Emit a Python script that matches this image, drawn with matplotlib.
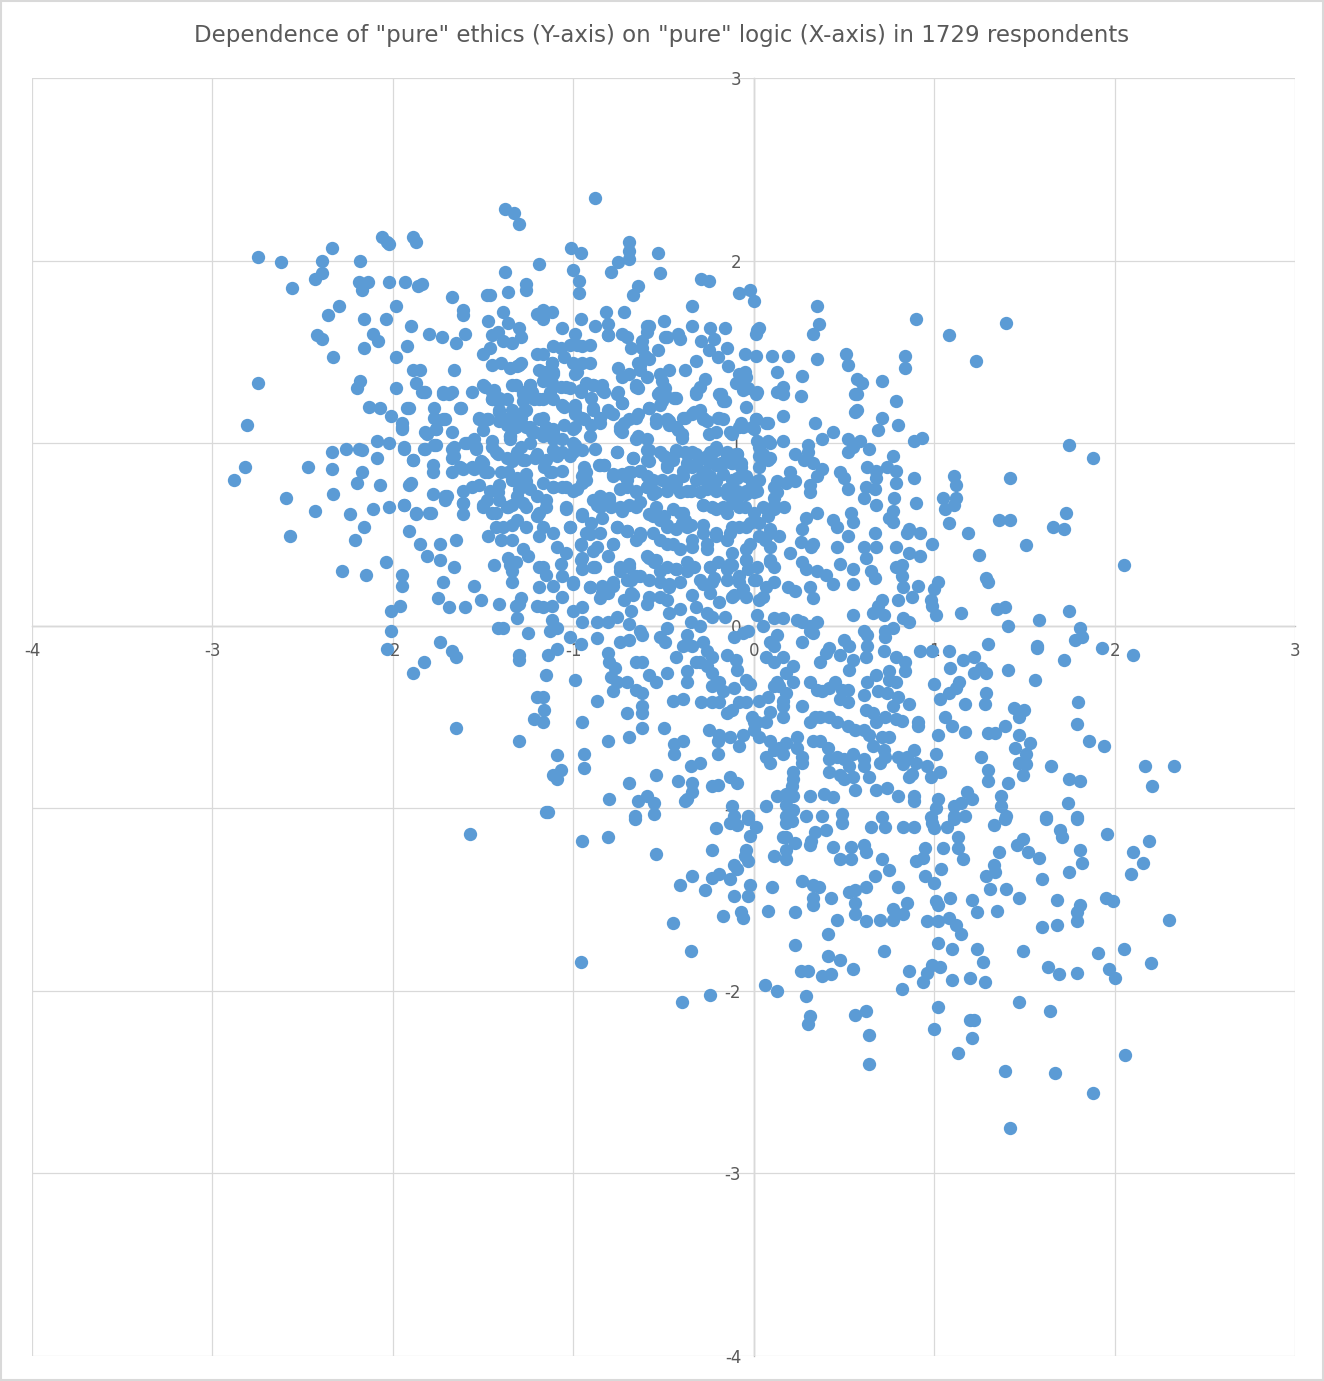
import matplotlib.pyplot as plt
from matplotlib.patches import Rectangle

plt.rcParams['axes.unicode_minus'] = False

# "pure" logic (x) vs "pure" ethics (y)
upper_left = [
    (-2.75, 2.02), (-2.62, 1.99), (-2.56, 1.85), (-2.43, 1.90), (-2.39, 1.93), (-2.39, 2.00),
    (-2.34, 2.07), (-2.18, 2.00), (-2.06, 2.13), (-2.03, 2.10), (-2.02, 2.09), (-1.89, 2.13),
    (-1.87, 2.10), (-1.38, 2.28), (-1.33, 2.26), (-1.30, 2.20), (-2.19, 1.88), (-2.14, 1.88),
    (-2.17, 1.84), (-2.02, 1.88), (-1.93, 1.88), (-1.86, 1.86), (-1.84, 1.87), (-1.67, 1.80),
    (-1.48, 1.81), (-1.46, 1.81), (-1.36, 1.83), (-1.38, 1.94), (-1.26, 1.87), (-1.26, 1.84),
    (-1.19, 1.98), (-2.30, 1.75), (-2.36, 1.70), (-2.16, 1.68), (-2.04, 1.68), (-1.98, 1.75),
    (-2.11, 1.60), (-2.08, 1.56), (-1.90, 1.64), (-1.80, 1.60), (-1.73, 1.58), (-1.61, 1.73),
    (-1.61, 1.70), (-1.65, 1.55), (-1.60, 1.60), (-2.42, 1.59), (-2.39, 1.57), (-2.16, 1.52),
    (-1.92, 1.53), (-1.98, 1.47), (-2.33, 1.47), (-1.47, 1.67), (-1.39, 1.72), (-1.36, 1.66),
    (-1.30, 1.63), (-1.29, 1.58), (-1.45, 1.59), (-1.42, 1.61), (-1.39, 1.56), (-1.34, 1.55),
    (-1.50, 1.49), (-1.46, 1.52), (-1.40, 1.44), (-1.31, 1.42), (-1.29, 1.44), (-1.89, 1.40),
    (-1.85, 1.40), (-1.66, 1.40), (-1.87, 1.33), (-2.18, 1.34), (-2.20, 1.30), (-1.98, 1.30),
    (-1.84, 1.28), (-1.82, 1.28), (-1.72, 1.27), (-1.69, 1.27), (-1.56, 1.28), (-1.50, 1.32),
    (-1.44, 1.29), (-1.34, 1.32), (-2.75, 1.33), (-2.81, 1.10), (-2.13, 1.20), (-2.07, 1.19),
    (-1.91, 1.19), (-2.01, 1.15), (-1.95, 1.11), (-1.95, 1.08), (-1.82, 1.06), (-1.76, 1.08),
    (-1.77, 1.19), (-1.77, 1.14), (-1.71, 1.13), (-1.62, 1.19), (-1.67, 1.06), (-1.52, 1.13),
    (-1.48, 1.13), (-1.41, 1.18), (-1.39, 1.14), (-1.32, 1.09), (-1.50, 1.07), (-1.35, 1.02),
    (-1.29, 1.14), (-1.24, 1.09), (-2.09, 1.01), (-2.02, 1.00), (-1.94, 0.98), (-1.83, 0.97),
    (-1.76, 0.99), (-2.34, 0.95), (-2.26, 0.97), (-2.19, 0.97), (-2.17, 0.96), (-2.09, 0.92),
    (-1.89, 0.91), (-1.78, 0.88), (-1.78, 0.84), (-1.67, 0.92), (-1.66, 0.98), (-1.59, 1.00),
    (-1.55, 1.02), (-1.54, 0.98), (-1.45, 1.01), (-1.43, 0.95), (-1.37, 0.92), (-1.34, 0.90),
    (-1.27, 0.91), (-1.21, 0.92), (-1.67, 0.84), (-1.61, 0.86), (-1.55, 0.86), (-1.50, 0.89),
    (-1.47, 0.84), (-1.40, 0.84), (-2.82, 0.87), (-2.88, 0.80), (-2.47, 0.87), (-2.34, 0.86),
    (-2.17, 0.84), (-2.20, 0.78), (-2.07, 0.77), (-1.90, 0.78), (-2.59, 0.70), (-2.33, 0.72),
    (-1.78, 0.72), (-1.71, 0.71), (-1.61, 0.74), (-1.56, 0.76), (-1.52, 0.77), (-1.46, 0.74),
    (-1.41, 0.77), (-1.34, 0.80), (-1.30, 0.75), (-1.26, 0.79), (-1.20, 1.71), (-1.20, 1.49),
    (-1.19, 1.40), (-1.24, 1.32), (-1.28, 1.27), (-1.22, 1.24), (-1.26, 1.18), (-1.21, 1.06),
    (-1.20, 0.93), (-1.45, 1.24), (-1.41, 1.25), (-1.37, 1.24), (-1.34, 1.18), (-1.37, 1.10),
    (-1.35, 1.04), (-1.24, 1.00), (-1.29, 0.98),
]

left_dense = [
    (-1.83, 1.28), (-1.72, 1.28), (-1.67, 1.28), (-1.49, 1.31), (-1.45, 1.28), (-1.45, 1.24),
    (-1.41, 1.23), (-1.32, 1.32), (-1.28, 1.28), (-1.24, 1.32), (-1.23, 1.28), (-1.28, 1.23),
    (-1.19, 1.24), (-1.13, 1.28), (-1.11, 1.39), (-1.15, 1.39), (-1.12, 1.44), (-1.30, 1.43),
    (-1.35, 1.41), (-1.45, 1.43), (-1.92, 1.19), (-1.72, 1.13), (-1.76, 1.08), (-1.81, 1.05),
    (-1.63, 1.19), (-1.52, 1.14), (-1.47, 1.13), (-1.41, 1.17), (-1.41, 1.12), (-1.35, 1.14),
    (-1.32, 1.10), (-1.28, 1.17), (-1.26, 1.09), (-1.23, 1.06), (-1.19, 1.13), (-1.15, 1.09),
    (-1.11, 1.06), (-1.17, 1.04), (-1.11, 1.02), (-1.95, 1.09), (-1.94, 0.97), (-1.82, 0.97),
    (-1.77, 0.99), (-1.89, 0.91), (-1.67, 0.97), (-1.60, 1.00), (-1.54, 0.97), (-1.66, 0.93),
    (-1.63, 0.87), (-1.56, 0.87), (-1.51, 0.90), (-1.49, 0.84), (-1.45, 0.98), (-1.42, 0.94),
    (-1.28, 0.91), (-1.35, 1.04), (-1.31, 0.95), (-1.36, 0.84), (-1.31, 0.81), (-1.26, 0.83),
    (-1.20, 0.94), (-1.16, 0.87), (-1.13, 0.84), (-1.09, 0.93), (-1.91, 0.77), (-1.70, 0.71),
    (-1.61, 0.67), (-1.48, 0.69), (-1.50, 0.65), (-1.42, 0.73), (-1.41, 0.69), (-1.37, 0.65),
    (-1.31, 0.71), (-1.28, 0.67), (-1.24, 0.75), (-1.20, 0.71), (-1.15, 0.69), (-1.11, 0.76),
    (-1.94, 0.66), (-1.87, 0.62), (-1.80, 0.62), (-1.61, 0.61), (-1.45, 0.62), (-1.19, 0.62),
]

lower_left = [
    (-2.43, 0.63), (-2.24, 0.61), (-2.16, 0.54), (-2.21, 0.47), (-2.11, 0.64), (-2.02, 0.65),
    (-1.94, 0.66), (-1.87, 0.61), (-1.79, 0.62), (-1.71, 0.69), (-1.61, 0.67), (-2.57, 0.49),
    (-1.91, 0.52), (-1.85, 0.45), (-1.74, 0.45), (-1.65, 0.47), (-1.81, 0.38), (-1.74, 0.36),
    (-1.66, 0.32), (-2.04, 0.35), (-2.28, 0.30), (-2.15, 0.28), (-1.95, 0.28), (-1.95, 0.22),
    (-1.72, 0.24), (-1.55, 0.22), (-1.75, 0.15), (-1.69, 0.10), (-1.60, 0.10), (-1.51, 0.14),
    (-1.96, 0.11), (-2.01, 0.08), (-2.01, -0.03), (-2.03, -0.13), (-1.74, -0.09), (-1.67, -0.14),
    (-1.65, -0.17), (-1.83, -0.20), (-1.89, -0.26), (-1.65, -0.56), (-1.30, -0.63), (-1.22, -0.51),
    (-1.20, -0.39), (-1.30, -0.16), (-1.30, -0.19), (-1.25, -0.04), (-1.31, 0.04), (-1.42, -0.01),
    (-1.39, -0.01), (-1.41, 0.12), (-1.32, 0.11), (-1.29, 0.15), (-1.30, 0.12), (-1.20, 0.11),
    (-1.34, 0.24), (-1.44, 0.33), (-1.36, 0.37), (-1.35, 0.33), (-1.34, 0.30), (-1.32, 0.35),
    (-1.28, 0.42), (-1.25, 0.38), (-1.47, 0.49), (-1.40, 0.47), (-1.34, 0.47), (-1.19, 0.49),
    (-1.43, 0.54), (-1.39, 0.54), (-1.34, 0.55), (-1.31, 0.58), (-1.26, 0.54), (-1.20, 0.60),
    (-1.50, 0.66), (-1.43, 0.62), (-1.36, 0.65), (-1.34, 0.66), (-1.26, 0.65), (-1.19, 0.32),
    (-1.19, 0.21), (-1.57, -1.14), (-1.14, -1.02),
]

upper_mid = [
    (-0.88, 2.34), (-1.01, 2.07), (-0.96, 2.04), (-1.00, 1.95), (-0.97, 1.89), (-0.97, 1.82),
    (-0.79, 1.94), (-0.75, 1.99), (-0.69, 2.10), (-0.69, 2.05), (-0.69, 2.01), (-0.53, 2.04),
    (-0.52, 1.93), (-0.64, 1.86), (-0.67, 1.81), (-0.29, 1.90), (-0.25, 1.89), (-0.08, 1.82),
    (-0.02, 1.84), (0.00, 1.78), (0.35, 1.75), (0.36, 1.65), (0.33, 1.60), (0.35, 1.46),
    (0.51, 1.49), (0.52, 1.43), (-0.34, 1.75), (-1.17, 1.73), (-1.12, 1.72), (-1.17, 1.68),
    (-0.96, 1.68), (-0.82, 1.72), (-0.72, 1.72), (-1.06, 1.63), (-0.99, 1.60), (-0.88, 1.64),
    (-0.81, 1.65), (-0.81, 1.59), (-0.73, 1.60), (-0.70, 1.58), (-0.59, 1.64), (-0.58, 1.64),
    (-0.50, 1.67), (-0.49, 1.58), (-0.48, 1.58), (-0.42, 1.60), (-0.41, 1.57), (-0.34, 1.64),
    (-0.24, 1.63), (-0.16, 1.63), (-0.29, 1.56), (-0.22, 1.57), (-0.25, 1.51), (-0.15, 1.52),
    (-0.20, 1.47), (-0.14, 1.42), (-0.32, 1.45), (-0.38, 1.40), (-0.53, 1.51), (-0.58, 1.46),
    (-0.63, 1.43), (-0.59, 1.61), (-0.62, 1.56), (-0.62, 1.52), (-0.60, 1.48), (-0.64, 1.44),
    (-0.63, 1.40), (-0.59, 1.36), (-0.65, 1.32), (-0.64, 1.30), (-0.69, 1.38), (-0.52, 1.38),
    (-0.51, 1.34), (-0.47, 1.40), (-0.49, 1.30), (-0.53, 1.27), (-0.49, 1.27), (-0.51, 1.23),
    (-0.43, 1.25), (-1.11, 1.53), (-1.12, 1.44), (-1.17, 1.49), (-1.17, 1.39), (-1.11, 1.38),
    (-1.07, 1.52), (-1.05, 1.47), (-1.02, 1.54), (-0.98, 1.54), (-0.95, 1.53), (-0.91, 1.54),
    (-1.00, 1.44), (-0.95, 1.44), (-0.91, 1.44), (-0.99, 1.38), (-0.98, 1.39), (-1.17, 1.34),
    (-1.12, 1.33), (-1.07, 1.31), (-1.02, 1.30), (-0.96, 1.28), (-0.93, 1.33), (-0.89, 1.32),
    (-0.84, 1.32), (-0.83, 1.28), (-0.90, 1.25), (-1.17, 1.24), (-1.11, 1.24), (-1.06, 1.21),
    (-0.99, 1.20), (-0.99, 1.16), (-0.89, 1.19), (-0.81, 1.18), (-0.76, 1.27), (-0.73, 1.22),
    (-0.78, 1.16), (-0.95, 1.14), (-1.17, 1.14), (-1.11, 1.08), (-0.99, 1.09), (-0.90, 1.10),
    (-0.85, 1.11), (-0.74, 1.09), (-0.73, 1.06), (-0.69, 1.13), (-0.64, 1.16), (-0.58, 1.19),
    (-0.54, 1.11), (-0.48, 1.13), (-0.43, 1.09), (-0.40, 1.03), (-0.39, 1.14), (-0.34, 1.16),
    (-0.30, 1.18), (-0.28, 1.13), (-0.20, 1.14), (-0.17, 1.13), (-0.32, 1.27), (-0.27, 1.35),
    (-0.30, 1.31), (-0.18, 1.26), (-0.16, 1.23), (-0.10, 1.33), (-0.08, 1.38), (-0.05, 1.39),
    (-0.06, 1.31), (-0.03, 1.30), (0.01, 1.27), (-0.04, 1.20), (0.01, 1.13), (0.00, 1.08),
    (-0.06, 1.09), (-0.12, 1.05), (0.08, 1.11), (0.16, 1.15), (0.16, 1.27), (0.16, 1.31),
    (0.26, 1.26), (0.13, 1.39), (0.27, 1.37), (0.10, 1.48), (0.19, 1.48), (0.02, 1.62),
    (0.01, 1.60), (-0.05, 1.49), (0.01, 1.48), (0.03, 1.63), (0.34, 1.11), (0.38, 1.02),
    (0.44, 1.06), (0.30, 0.99), (0.30, 0.95), (0.23, 0.94), (0.16, 1.01), (0.09, 1.00),
    (0.03, 0.98), (0.09, 0.92), (0.03, 0.93), (0.28, 0.91), (0.33, 0.89), (0.38, 0.86),
    (0.52, 1.02), (0.55, 0.98), (0.52, 0.95), (0.48, 0.84), (0.50, 0.81), (0.52, 0.75),
    (0.57, 1.35), (0.56, 1.27), (0.57, 1.18), (0.35, 0.82), (0.31, 0.77), (0.31, 0.73),
    (0.20, 0.84), (0.18, 0.78), (0.23, 0.79), (0.13, 0.79), (0.13, 0.73), (0.02, 0.79),
    (-0.43, 0.96), (-0.37, 0.94), (-0.32, 0.94), (-0.26, 0.93), (-0.21, 0.96), (-0.15, 0.93),
    (-0.09, 0.94), (-0.07, 0.87), (-0.12, 0.89), (-0.18, 0.89), (-0.23, 0.90), (-0.28, 0.84),
    (-0.34, 0.87), (-0.39, 0.85), (-0.45, 0.91), (-0.50, 0.93), (-0.48, 0.87), (-0.58, 0.90),
    (-0.59, 0.96), (-0.65, 1.02), (-0.67, 0.92), (-0.76, 0.95), (-0.63, 0.85), (-0.69, 0.84),
    (-0.78, 0.83), (-0.83, 0.88), (-0.86, 0.88), (-0.94, 0.87), (-0.95, 0.82), (-1.00, 0.95),
    (-1.00, 1.00), (-1.06, 0.95), (-1.11, 0.96), (-1.15, 0.91), (-1.12, 0.84), (-1.17, 0.78),
    (-1.11, 0.76), (-1.04, 0.76), (-0.98, 0.75), (-0.95, 0.78), (-0.93, 0.84), (-0.85, 0.71),
    (-0.80, 0.70), (-0.74, 0.75), (-0.70, 0.80), (-0.65, 0.73), (-0.59, 0.76), (-0.56, 0.72),
    (-0.48, 0.74), (-0.43, 0.78), (-0.37, 0.74), (-0.32, 0.80), (-0.26, 0.75), (-0.21, 0.79),
    (-0.15, 0.75), (-0.09, 0.81), (-0.04, 0.74), (0.00, 0.73), (-0.08, 0.71), (0.11, 0.70),
    (-0.81, 1.59), (-0.68, 1.52), (-0.75, 1.41), (-0.73, 1.36), (-0.19, 1.27), (-0.04, 1.36),
]

mid_dense = [
    (-1.04, 1.31), (-0.96, 1.29), (-0.89, 1.32), (-0.84, 1.29), (-0.75, 1.28), (-0.65, 1.31),
    (-0.52, 1.28), (-0.44, 1.25), (-0.32, 1.28), (-0.18, 1.27), (-0.17, 1.23), (-0.06, 1.29),
    (0.02, 1.28), (0.13, 1.28), (-1.05, 1.20), (-0.99, 1.21), (-0.99, 1.17), (-0.89, 1.18),
    (-0.85, 1.14), (-0.80, 1.17), (-0.73, 1.22), (-0.65, 1.14), (-0.58, 1.19), (-0.52, 1.21),
    (-0.54, 1.13), (-0.47, 1.12), (-0.38, 1.14), (-0.33, 1.17), (-0.28, 1.14), (-0.26, 1.12),
    (-0.19, 1.14), (-0.07, 1.11), (0.01, 1.13), (0.07, 1.11), (-1.05, 1.10), (-0.94, 1.13),
    (-1.00, 1.08), (-0.91, 1.04), (-0.88, 0.97), (-0.99, 0.99), (-1.06, 1.02), (-0.95, 0.96),
    (-0.74, 1.07), (-0.72, 1.11), (-0.64, 1.04), (-0.59, 1.02), (-0.58, 0.96), (-0.47, 1.10),
    (-0.42, 1.07), (-0.40, 1.05), (-0.25, 1.05), (-0.21, 1.06), (-0.13, 1.06), (-0.08, 1.09),
    (-0.01, 1.09), (0.02, 1.01), (0.08, 1.01), (-0.76, 0.95), (-0.67, 0.92), (-0.52, 0.95),
    (-0.48, 0.92), (-0.43, 0.95), (-0.38, 0.95), (-0.34, 0.95), (-0.29, 0.92), (-0.24, 0.95),
    (-0.21, 0.98), (-0.15, 0.95), (-0.09, 0.94), (-0.07, 0.89), (-0.12, 0.89), (-0.17, 0.89),
    (-0.21, 0.88), (-0.25, 0.89), (-0.32, 0.88), (-0.37, 0.89), (-0.48, 0.88), (-0.59, 0.91),
    (-0.63, 0.85), (-0.59, 0.82), (-0.68, 0.84), (-0.73, 0.83), (-0.78, 0.82), (-0.85, 0.88),
    (-0.83, 0.88), (-0.94, 0.84), (-0.93, 0.80), (-1.02, 0.93), (-1.06, 0.85), (0.05, 0.94),
    (0.08, 0.91), (0.03, 0.87), (-0.04, 0.82), (-0.01, 0.78), (-0.12, 0.80), (-0.17, 0.83),
    (-0.24, 0.82), (-0.30, 0.81), (-0.39, 0.82), (-0.45, 0.80), (-0.51, 0.80), (-0.56, 0.80),
    (-1.06, 0.76), (-1.00, 0.74), (-1.04, 0.65), (-0.89, 0.69), (-0.85, 0.65), (-0.80, 0.69),
    (-0.74, 0.65), (-0.69, 0.66), (-0.63, 0.68), (-0.70, 0.76), (-0.65, 0.74), (-0.59, 0.76),
    (-0.54, 0.73), (-0.54, 0.65), (-0.47, 0.76), (-0.41, 0.73), (-0.35, 0.74), (-0.30, 0.73),
    (-0.26, 0.76), (-0.21, 0.74), (-0.15, 0.72), (-0.09, 0.74), (-0.04, 0.72), (0.02, 0.74),
    (0.03, 0.80), (0.11, 0.76), (-0.28, 0.66), (-0.23, 0.65), (-0.17, 0.65), (-0.12, 0.67),
    (-0.05, 0.65), (0.05, 0.65), (0.11, 0.66), (-0.39, 0.62), (-0.45, 0.64), (-1.02, 0.54),
    (-0.95, 0.60), (-0.90, 0.56), (-0.84, 0.59), (-0.76, 0.54), (-0.70, 0.52), (-0.63, 0.51),
    (-0.56, 0.60), (-0.52, 0.58), (-0.48, 0.54), (-0.40, 0.56), (-0.37, 0.54), (-0.28, 0.55),
    (-0.21, 0.51), (-0.12, 0.54), (-0.04, 0.54), (0.03, 0.56), (0.08, 0.60), (0.09, 0.51),
    (-0.91, 0.50), (-0.96, 0.45), (-0.87, 0.43), (-0.78, 0.45), (-0.65, 0.47), (-0.52, 0.47),
    (-0.45, 0.45), (-0.34, 0.47), (-0.26, 0.45), (-0.15, 0.47), (-0.02, 0.45), (0.06, 0.47),
    (-1.04, 0.40), (-0.96, 0.36), (-0.89, 0.32), (-0.95, 0.31), (-0.81, 0.38), (-0.74, 0.32),
    (-0.69, 0.34), (-0.59, 0.38), (-0.55, 0.35), (-0.48, 0.32), (-0.43, 0.31), (-0.37, 0.35),
    (-0.33, 0.32), (-0.24, 0.32), (-0.20, 0.35), (-0.13, 0.34), (-0.04, 0.36), (0.02, 0.32),
    (0.09, 0.36), (-1.00, 0.24), (-0.91, 0.21), (-0.78, 0.24), (-0.70, 0.25), (-0.65, 0.27),
    (-0.58, 0.25), (-0.52, 0.24), (-0.47, 0.21), (-0.41, 0.24), (-0.30, 0.25), (-0.23, 0.24),
    (-0.15, 0.25), (-0.08, 0.24), (0.00, 0.25), (0.07, 0.21), (-0.84, 0.18), (-0.67, 0.17),
    (-0.52, 0.16), (-0.34, 0.17), (-0.24, 0.18), (-0.12, 0.16),
]

core = [
    (-1.15, 0.65), (-1.04, 0.64), (-0.95, 0.61), (-0.87, 0.66), (-0.79, 0.65), (-0.73, 0.63),
    (-0.65, 0.65), (-0.58, 0.61), (-0.50, 0.60), (-0.41, 0.62), (-0.38, 0.58), (-0.28, 0.66),
    (-0.21, 0.64), (-0.15, 0.62), (-0.08, 0.65), (0.00, 0.62), (0.11, 0.64), (0.17, 0.65),
    (0.29, 0.59), (0.35, 0.62), (0.44, 0.58), (0.54, 0.62), (0.55, 0.57), (-1.17, 0.54),
    (-1.11, 0.51), (-1.02, 0.54), (-0.93, 0.51), (-0.85, 0.51), (-0.76, 0.54), (-0.70, 0.52),
    (-0.63, 0.49), (-0.56, 0.51), (-0.48, 0.55), (-0.43, 0.53), (-0.35, 0.55), (-0.28, 0.51),
    (-0.21, 0.49), (-0.13, 0.51), (-0.08, 0.54), (-0.02, 0.56), (0.03, 0.49), (0.09, 0.53),
    (0.14, 0.49), (0.27, 0.53), (0.26, 0.46), (0.33, 0.45), (0.46, 0.54), (0.52, 0.49),
    (-1.09, 0.43), (-0.96, 0.44), (-0.89, 0.41), (-0.78, 0.45), (-0.48, 0.45), (-0.41, 0.42),
    (-0.34, 0.43), (-0.26, 0.42), (-0.12, 0.40), (-0.04, 0.42), (0.09, 0.43), (0.20, 0.40),
    (0.32, 0.43), (0.46, 0.43), (-1.17, 0.32), (-1.07, 0.34), (-1.06, 0.27), (-0.95, 0.37),
    (-0.88, 0.32), (-0.74, 0.30), (-0.69, 0.32), (-0.63, 0.27), (-0.58, 0.37), (-0.54, 0.36),
    (-0.52, 0.30), (-0.47, 0.23), (-0.43, 0.31), (-0.37, 0.30), (-0.34, 0.32), (-0.28, 0.23),
    (-0.24, 0.32), (-0.22, 0.26), (-0.15, 0.31), (-0.12, 0.33), (-0.08, 0.27), (-0.03, 0.31),
    (0.01, 0.25), (-0.04, 0.36), (0.09, 0.35), (0.11, 0.32), (0.27, 0.35), (0.29, 0.31),
    (0.35, 0.30), (0.40, 0.28), (0.44, 0.23), (0.48, 0.34), (0.55, 0.31), (0.55, 0.23),
    (-1.00, 0.23), (-0.91, 0.21), (-0.84, 0.22), (-0.78, 0.22), (-0.68, 0.25), (0.11, 0.24),
    (0.19, 0.21), (0.23, 0.19), (0.31, 0.21), (0.33, 0.15), (-1.17, 0.10), (-1.12, 0.11),
    (-1.06, 0.16), (-1.00, 0.08), (-0.95, 0.10), (-0.85, 0.15), (-0.81, 0.18), (-0.76, 0.05),
    (-0.72, 0.14), (-0.68, 0.18), (-0.68, 0.08), (-0.59, 0.12), (-0.58, 0.16), (-0.48, 0.14),
    (-0.47, 0.07), (-0.41, 0.09), (-0.32, 0.10), (-0.26, 0.07), (-0.23, 0.05), (-0.19, 0.13),
    (-0.16, 0.05), (-0.11, 0.17), (-0.06, 0.20), (-0.04, 0.16), (0.03, 0.14), (0.05, 0.16),
    (0.11, 0.04), (0.16, 0.04), (0.24, 0.03), (0.27, 0.02), (0.31, 0.00), (0.35, 0.02),
    (0.02, 0.06), (0.05, 0.00), (0.55, 0.06), (-1.12, 0.03), (-0.95, 0.02), (-0.87, 0.02),
    (-0.81, 0.02), (-0.35, 0.02), (-0.30, 0.00), (-0.11, -0.06), (-0.06, -0.04), (-0.03, -0.03),
    (-1.13, -0.03), (-1.09, -0.01), (-1.02, -0.06), (-0.96, -0.10), (-0.87, -0.07), (-0.74, -0.09),
    (-0.69, -0.08), (-0.69, 0.01), (-0.63, -0.03), (-0.62, -0.05), (-0.52, -0.06), (-0.48, -0.01),
    (-0.49, -0.09), (-0.37, -0.05), (-0.39, -0.11), (-0.34, -0.11), (-0.28, -0.09), (-0.26, -0.14),
    (-0.23, -0.17), (-0.15, -0.16), (-0.10, -0.19), (-0.09, -0.24), (-1.09, -0.13), (-1.14, -0.16),
    (-0.81, -0.15), (-0.80, -0.20), (-0.77, -0.23), (-0.65, -0.20), (-0.62, -0.20), (-0.43, -0.17),
    (-0.32, -0.20), (0.11, -0.11), (0.13, -0.05), (0.09, -0.09), (0.07, -0.17), (0.11, -0.20),
    (0.16, -0.17), (0.22, -0.22), (0.18, -0.26), (0.31, -0.03), (0.33, -0.04), (0.27, -0.09),
    (0.37, -0.20), (0.40, -0.15), (0.42, -0.12), (0.48, -0.16), (0.50, -0.08), (0.53, -0.11),
    (0.55, -0.19), (0.53, -0.24), (-1.15, -0.27), (-0.99, -0.30), (-0.87, -0.41), (-0.79, -0.28),
    (-0.76, -0.31), (-0.78, -0.36), (-0.70, -0.31), (-0.65, -0.35), (-0.62, -0.37), (-0.58, -0.27),
    (-0.54, -0.31), (-0.48, -0.26), (-0.45, -0.41), (-0.39, -0.40), (-0.70, -0.48), (-0.62, -0.44),
    (-0.62, -0.48), (-0.62, -0.56), (-0.37, -0.25), (-0.37, -0.31), (-0.30, -0.20), (-0.26, -0.22),
    (-0.23, -0.26), (-0.19, -0.31), (-0.23, -0.33), (-0.17, -0.36), (-0.11, -0.34), (-0.04, -0.30),
    (-0.02, -0.32), (-0.29, -0.42), (-0.23, -0.42), (-0.19, -0.42), (-0.15, -0.48), (-0.12, -0.46),
    (-0.08, -0.42), (-0.04, -0.42), (-0.01, -0.50), (0.00, -0.53), (0.03, -0.41), (0.08, -0.39),
    (0.09, -0.47), (0.02, -0.53), (0.07, -0.53), (0.13, -0.31), (0.14, -0.33), (0.11, -0.33),
    (0.16, -0.41), (0.18, -0.37), (0.22, -0.31), (0.27, -0.44), (0.16, -0.44), (0.16, -0.50),
    (0.31, -0.31), (0.35, -0.35), (0.38, -0.36), (0.42, -0.34), (0.45, -0.31), (0.49, -0.35),
    (0.52, -0.35), (0.48, -0.40), (0.52, -0.42), (0.34, -0.50), (0.37, -0.50), (0.42, -0.50),
    (0.46, -0.53), (0.52, -0.55), (0.56, -0.57), (0.31, -0.53), (-0.95, -0.53), (-0.81, -0.63),
    (-0.94, -0.70), (-1.09, -0.71), (-1.07, -0.79), (-1.11, -0.82), (-1.09, -0.84), (-0.94, -0.78),
    (-0.69, -0.61), (-0.50, -0.56), (-0.69, -0.86), (-0.80, -0.95), (-0.54, -0.82), (-0.44, -0.65),
    (-0.44, -0.70), (-0.39, -0.63), (-0.35, -0.77), (-0.30, -0.75), (-0.42, -0.85), (-0.34, -0.86),
    (-0.34, -0.91), (-0.37, -0.95), (-0.59, -0.93), (-0.64, -0.96), (-0.55, -0.97), (-0.55, -1.03),
    (-0.66, -1.04), (-0.25, -0.57), (-0.19, -0.60), (-0.20, -0.63), (-0.20, -0.70), (-0.13, -0.61),
    (-0.08, -0.66), (-0.06, -0.60), (0.00, -0.57), (0.03, -0.61), (0.09, -0.63), (0.11, -0.68),
    (0.14, -0.67), (0.18, -0.64), (0.24, -0.61), (0.24, -0.67), (0.27, -0.72), (0.27, -0.75),
    (0.07, -0.72), (0.09, -0.75), (0.16, -0.70), (0.22, -0.80), (0.22, -0.84), (0.21, -0.88),
    (0.18, -0.92), (0.13, -0.93), (0.22, -0.93), (0.18, -0.98), (0.22, -1.01), (0.31, -0.93),
    (0.39, -0.92), (0.44, -0.94), (0.42, -0.80), (0.41, -0.67), (0.42, -0.73), (0.46, -0.72),
    (0.50, -0.73), (0.53, -0.77), (0.48, -0.82), (0.50, -0.84), (0.55, -0.83), (0.56, -0.90),
    (0.33, -0.63), (0.37, -0.63), (0.55, -0.70), (-0.09, -0.86), (-0.13, -0.83), (-0.23, -0.88),
    (-0.20, -0.87), (-0.38, -0.96), (-0.12, -0.99), (-0.11, -1.04), (-0.03, -1.04), (0.07, -0.99),
    (0.18, -1.04), (0.29, -1.04), (0.38, -1.04), (0.49, -1.03), (-1.15, -1.02), (-1.16, -0.46),
    (-1.17, -0.53), (-1.17, -0.39), (-1.15, 0.28), (-1.11, 0.22),
]

right_mid = [
    (0.68, 0.66), (0.77, 0.63), (0.75, 0.59), (0.77, 0.57), (0.90, 0.67), (1.06, 0.64),
    (1.11, 0.66), (1.08, 0.56), (1.19, 0.51), (1.36, 0.58), (1.42, 0.58), (1.66, 0.54),
    (1.72, 0.53), (1.73, 0.62), (1.51, 0.44), (1.25, 0.39), (2.05, 0.33), (0.67, 0.51),
    (0.85, 0.51), (0.92, 0.51), (0.86, 0.53), (0.99, 0.45), (0.79, 0.43), (0.68, 0.43),
    (0.61, 0.43), (0.62, 0.37), (0.86, 0.40), (0.92, 0.38), (0.79, 0.32), (0.82, 0.33),
    (0.65, 0.30), (0.67, 0.26), (0.82, 0.27), (0.83, 0.21), (0.91, 0.22), (0.88, 0.16),
    (1.02, 0.24), (1.00, 0.20), (0.98, 0.14), (0.99, 0.11), (1.01, 0.06), (0.80, 0.14),
    (0.71, 0.14), (0.69, 0.11), (0.66, 0.07), (0.72, 0.06), (1.15, 0.07), (1.29, 0.26),
    (1.30, 0.24), (1.35, 0.09), (1.39, 0.10), (1.41, 0.00), (1.58, 0.03), (1.75, 0.08),
    (1.81, -0.01), (1.78, -0.08), (1.82, -0.06), (1.93, -0.12), (2.10, -0.16), (1.72, -0.19),
    (1.57, -0.11), (1.57, -0.12), (1.30, -0.10), (1.41, -0.24), (1.56, -0.30), (1.80, -0.42),
    (1.79, -0.54), (1.86, -0.63), (1.94, -0.66), (2.17, -0.77), (2.33, -0.77), (2.21, -0.88),
    (1.65, -0.77), (1.75, -0.84), (1.81, -0.85), (1.74, -0.97), (1.44, -0.45), (1.50, -0.46),
    (1.47, -0.50), (1.39, -0.55), (1.47, -0.60), (1.53, -0.64), (1.45, -0.67), (1.51, -0.70),
    (1.47, -0.75), (1.51, -0.76), (1.49, -0.82), (1.41, -0.86), (1.37, -0.93), (1.37, -0.99),
    (1.40, -1.04), (1.62, -1.05), (1.79, -1.05), (1.30, -0.59), (1.34, -0.59), (1.26, -0.72),
    (1.30, -0.79), (1.30, -0.85), (1.29, -0.37), (1.28, -0.43), (1.22, -0.17), (1.26, -0.23),
    (1.29, -0.26), (1.22, -0.26), (1.16, -0.19), (1.09, -0.23), (1.08, -0.14), (0.92, -0.14),
    (0.99, -0.14), (1.00, -0.32), (1.03, -0.40), (1.08, -0.37), (1.12, -0.34), (1.14, -0.31),
    (1.17, -0.43), (1.06, -0.50), (1.10, -0.55), (1.17, -0.58), (1.02, -0.60), (1.01, -0.70),
    (0.96, -0.77), (0.98, -0.83), (1.03, -0.80), (0.80, -0.93), (0.89, -0.93), (0.89, -0.96),
    (1.02, -0.95), (1.01, -1.00), (1.11, -0.99), (1.15, -0.97), (1.18, -0.91), (1.21, -0.95),
    (1.11, -1.04), (1.17, -1.04), (0.98, -1.05), (0.71, -1.05), (0.74, -0.89), (0.68, -0.90),
    (0.91, -0.53), (0.91, -0.55), (0.86, -0.43), (0.82, -0.52), (0.79, -0.51), (0.73, -0.50),
    (0.68, -0.53), (0.61, -0.57), (0.64, -0.60), (0.71, -0.61), (0.75, -0.61), (0.66, -0.66),
    (0.72, -0.68), (0.73, -0.72), (0.70, -0.75), (0.61, -0.73), (0.61, -0.77), (0.64, -0.83),
    (0.80, -0.72), (0.83, -0.76), (0.85, -0.72), (0.89, -0.68), (0.90, -0.75), (0.86, -0.83),
    (0.88, -0.81), (0.79, -0.17), (0.84, -0.20), (0.84, -0.25), (0.75, -0.25), (0.75, -0.30),
    (0.79, -0.31), (0.68, -0.27), (0.63, -0.31), (0.69, -0.36), (0.74, -0.37), (0.80, -0.39),
    (0.77, -0.44), (0.61, -0.38), (0.62, -0.46), (0.66, -0.48), (0.72, -0.14), (0.63, -0.11),
    (0.62, -0.17), (0.63, -0.05), (0.61, -0.03), (0.73, -0.03), (0.77, -0.01), (0.83, 0.04),
    (0.86, 0.02), (0.73, -0.06),
]

upper_right = [
    (0.90, 1.68), (1.40, 1.66), (1.08, 1.59), (1.23, 1.45), (0.84, 1.48), (0.71, 1.34),
    (0.84, 1.41), (0.79, 1.23), (0.71, 1.14), (0.80, 1.10), (0.69, 1.07), (0.93, 1.03),
    (0.89, 1.01), (0.59, 1.01), (0.63, 0.87), (0.68, 0.85), (0.74, 0.87), (0.79, 0.85),
    (0.89, 0.81), (1.11, 0.82), (1.12, 0.77), (1.42, 0.81), (1.75, 0.99), (1.88, 0.92),
    (0.68, 0.81), (0.79, 0.78), (0.67, 0.75), (0.78, 0.70), (1.05, 0.70), (1.12, 0.70),
    (0.61, 0.70), (0.62, 0.76), (0.77, 0.93), (0.64, 0.97), (0.56, 1.17), (0.57, 1.27),
    (0.60, 1.33),
]

lower_mid = [
    (-0.95, -1.18), (-0.81, -1.16), (-0.54, -1.25), (-0.66, -1.06), (-0.21, -1.11), (-0.13, -1.08),
    (-0.09, -1.09), (-0.03, -1.06), (0.01, -1.10), (-0.02, -1.15), (-0.23, -1.23), (-0.04, -1.23),
    (-0.05, -1.26), (-0.03, -1.29), (-0.11, -1.31), (-0.09, -1.33), (-0.34, -1.37), (-0.41, -1.42),
    (-0.23, -1.38), (-0.19, -1.36), (-0.13, -1.39), (-0.27, -1.45), (-0.11, -1.48), (-0.03, -1.48),
    (-0.02, -1.42), (-0.17, -1.59), (-0.07, -1.57), (-0.06, -1.60), (-0.45, -1.63), (-0.35, -1.78),
    (-0.96, -1.84), (-0.40, -2.06), (-0.24, -2.02), (0.06, -1.97), (0.13, -2.00), (0.29, -2.03),
    (0.31, -2.14), (0.30, -2.18), (0.56, -2.13), (0.23, -1.75), (0.26, -1.89), (0.30, -1.89),
    (0.38, -1.92), (0.43, -1.91), (0.55, -1.88), (0.41, -1.81), (0.48, -1.83), (0.41, -1.69),
    (0.46, -1.61), (0.56, -1.58), (0.56, -1.52), (0.23, -1.57), (0.08, -1.56), (0.10, -1.43),
    (0.27, -1.40), (0.33, -1.42), (0.36, -1.43), (0.33, -1.49), (0.33, -1.53), (0.43, -1.49),
    (0.53, -1.46), (0.56, -1.45), (0.11, -1.26), (0.18, -1.28), (0.18, -1.23), (0.16, -1.16),
    (0.18, -1.16), (0.23, -1.19), (0.31, -1.20), (0.32, -1.18), (0.34, -1.13), (0.40, -1.12),
    (0.44, -1.21), (0.48, -1.28), (0.54, -1.21), (0.54, -1.28), (0.49, -1.08), (0.18, -1.08),
    (0.21, -1.07),
]

lower_right = [
    (0.65, -1.10), (0.73, -1.10), (0.83, -1.10), (0.89, -1.10), (0.99, -1.08), (1.00, -1.11),
    (1.07, -1.10), (1.11, -1.06), (1.33, -1.09), (1.39, -1.06), (1.62, -1.06), (1.79, -1.06),
    (1.70, -1.12), (1.71, -1.16), (1.96, -1.14), (2.19, -1.18), (2.10, -1.24), (2.16, -1.30),
    (2.09, -1.36), (1.81, -1.23), (1.82, -1.30), (1.75, -1.35), (1.60, -1.39), (1.58, -1.27),
    (1.52, -1.24), (1.49, -1.17), (1.46, -1.20), (1.36, -1.24), (1.33, -1.31), (1.34, -1.35),
    (1.29, -1.37), (1.31, -1.44), (1.40, -1.44), (1.47, -1.49), (1.68, -1.50), (1.81, -1.53),
    (1.79, -1.57), (1.79, -1.62), (1.68, -1.64), (1.60, -1.65), (1.95, -1.49), (1.99, -1.51),
    (2.30, -1.61), (1.35, -1.56), (1.24, -1.57), (1.21, -1.50), (1.09, -1.49), (1.01, -1.51),
    (1.02, -1.53), (1.04, -1.33), (1.00, -1.41), (1.05, -1.22), (1.13, -1.16), (1.13, -1.22),
    (1.16, -1.28), (0.95, -1.22), (0.94, -1.27), (0.90, -1.29), (0.95, -1.37), (0.80, -1.43),
    (0.85, -1.52), (0.83, -1.58), (0.77, -1.55), (0.77, -1.61), (0.70, -1.61), (0.62, -1.62),
    (0.67, -1.37), (0.71, -1.28), (0.75, -1.34), (0.61, -1.20), (0.62, -1.24), (0.62, -1.43),
    (0.96, -1.62), (1.02, -1.62), (1.08, -1.60), (1.12, -1.64), (1.15, -1.69), (1.02, -1.74),
    (1.10, -1.77), (1.24, -1.77), (1.27, -1.84), (1.28, -1.95), (1.20, -1.93), (1.10, -1.94),
    (1.03, -1.87), (0.99, -1.86), (0.96, -1.90), (0.94, -1.95), (0.86, -1.89), (0.82, -1.99),
    (0.72, -1.78), (1.49, -1.78), (1.63, -1.87), (1.69, -1.91), (1.79, -1.90), (1.91, -1.79),
    (2.05, -1.77), (1.97, -1.88), (2.00, -1.93), (2.20, -1.85), (1.47, -2.06), (1.64, -2.11),
    (1.02, -2.09), (1.00, -2.21), (1.20, -2.16), (1.22, -2.16), (1.21, -2.26), (1.13, -2.34),
    (0.62, -2.11), (0.64, -2.24), (0.64, -2.40), (1.39, -2.44), (1.67, -2.45), (2.06, -2.35),
    (1.88, -2.56), (1.42, -2.75),
]

title = 'Dependence of "pure" ethics (Y-axis) on "pure" logic (X-axis) in 1729 respondents'
ticks = [-4, -3, -2, -1, 0, 1, 2, 3]

points = (upper_left + left_dense + lower_left + upper_mid + mid_dense + core
          + right_mid + upper_right + lower_mid + lower_right)
logic = [p[0] for p in points]
ethics = [p[1] for p in points]

grey = '#595959'
fig = plt.figure(figsize=(13.24, 13.81), dpi=100)
fig.patches.append(Rectangle((0.001, 0.001), 0.998, 0.998, transform=fig.transFigure,
                             fill=False, edgecolor='#D9D9D9', linewidth=1.5))
fig.text(0.5, 0.9745, title, ha='center', va='center', fontsize=16.5, color=grey)

ax = fig.add_axes([32 / 1324, 25 / 1381, 1263 / 1324, 1278 / 1381])
ax.scatter(logic, ethics, s=92, color='#5B9BD5', linewidths=0, zorder=3)

ax.set_xlim(-4, 3)
ax.set_ylim(-4, 3)
ax.set_xticks(ticks)
ax.set_yticks(ticks)
ax.grid(True, color='#D9D9D9', linewidth=0.9, zorder=0)

for side in ['top', 'right']:
    ax.spines[side].set_visible(False)
ax.spines['left'].set_position(('data', 0))
ax.spines['bottom'].set_position(('data', 0))
for side in ['left', 'bottom']:
    ax.spines[side].set_color('#BFBFBF')
    ax.spines[side].set_linewidth(1.0)
    ax.spines[side].set_zorder(1)
ax.tick_params(length=0, labelsize=12, labelcolor=grey)
ax.tick_params(axis='x', pad=12)
ax.tick_params(axis='y', pad=9)

fig.savefig('out.png', dpi=100)
